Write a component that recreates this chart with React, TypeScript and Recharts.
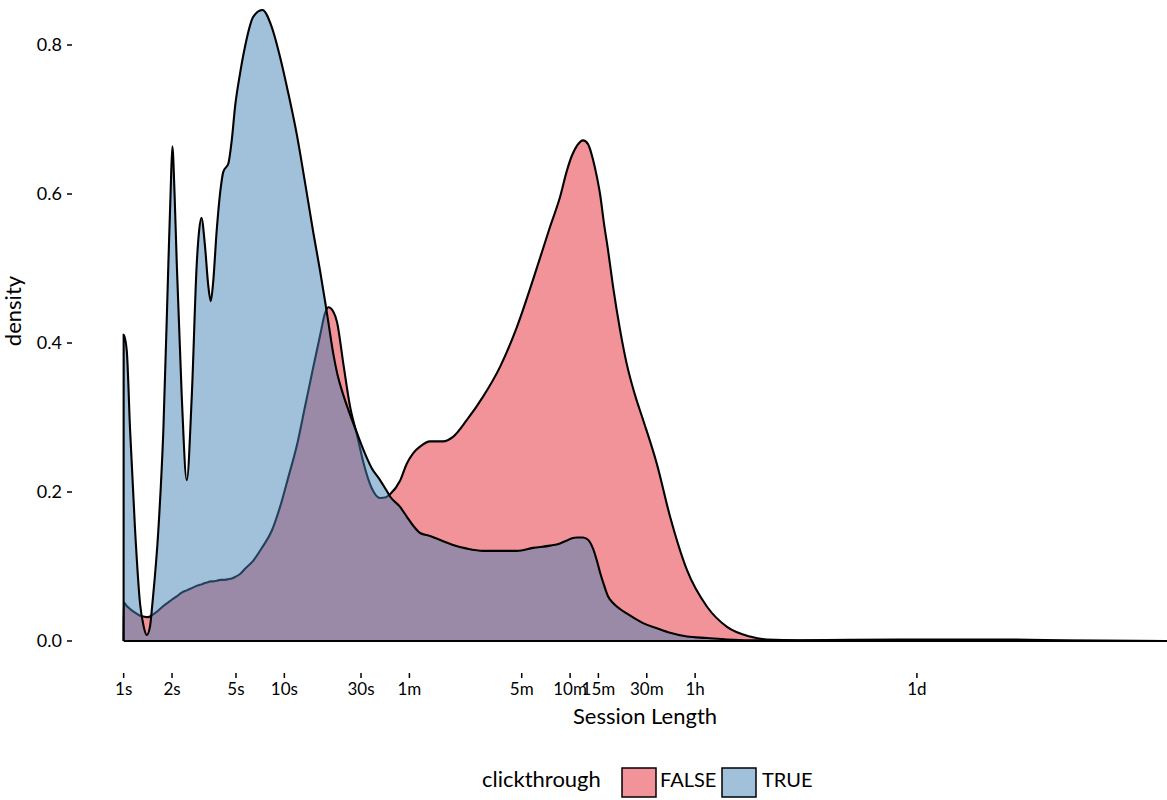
import React from 'react';
import { ComposedChart, Area, XAxis, YAxis, ReferenceLine } from 'recharts';

// Session length (seconds), with density of each group
const seconds = [
    0.999, 1, 1.045, 1.096, 1.177, 1.265, 1.33, 1.392, 1.46, 1.509,
    1.644, 1.766, 1.898, 1.958, 2.009, 2.074, 2.14, 2.299, 2.47, 2.653,
    2.851, 2.946, 3.045, 3.211, 3.351, 3.483, 3.6, 3.796, 4.021, 4.173,
    4.483, 4.706, 4.934, 5.302, 5.693, 6.413, 7.297, 8.35, 9.402, 10.59,
    11.95, 13.46, 15.15, 16.68, 17.92, 18.78, 20.18, 21.28, 23.29, 25.63,
    28.22, 31.01, 34.99, 39.4, 42.95, 45.48, 52.48, 57.77, 63.23, 69.9,
    80.66, 97.19, 112.1, 137.1, 172.4, 219.9, 280.6, 352.9, 450.2, 519.5,
    574.4, 617.1, 662.8, 722.3, 775.8, 833.7, 883, 921.7, 975.9, 1033,
    1110, 1227, 1351, 1522, 1707, 2085, 2513, 3205, 4270, 5685,
    7907, 10090, 16190, 67800, 284200, 894000, 3110000,
];

const densityFalse = [
    0, 0.052, 0.047, 0.043, 0.038, 0.034, 0.033, 0.032, 0.033, 0.035,
    0.041, 0.047, 0.052, 0.054, 0.056, 0.058, 0.06, 0.065, 0.068, 0.071,
    0.074, 0.075, 0.076, 0.078, 0.079, 0.08, 0.08, 0.081, 0.082, 0.082,
    0.083, 0.084, 0.086, 0.09, 0.097, 0.108, 0.126, 0.148, 0.18, 0.22,
    0.262, 0.315, 0.368, 0.41, 0.44, 0.448, 0.442, 0.428, 0.372, 0.315,
    0.278, 0.24, 0.205, 0.192, 0.193, 0.197, 0.215, 0.238, 0.252, 0.261,
    0.268, 0.268, 0.274, 0.297, 0.328, 0.368, 0.422, 0.485, 0.556, 0.596,
    0.632, 0.652, 0.665, 0.672, 0.667, 0.646, 0.622, 0.6, 0.56, 0.525,
    0.476, 0.418, 0.372, 0.33, 0.297, 0.237, 0.167, 0.095, 0.046, 0.019,
    0.006, 0.002, 0.001, 0.002, 0.002, 0.0005, 0,
];

const densityTrue = [
    0, 0.411, 0.39, 0.284, 0.15, 0.05, 0.02, 0.008, 0.02, 0.05,
    0.149, 0.283, 0.507, 0.6, 0.664, 0.6, 0.507, 0.328, 0.216, 0.328,
    0.507, 0.55, 0.568, 0.529, 0.48, 0.456, 0.48, 0.552, 0.609, 0.63,
    0.641, 0.672, 0.717, 0.762, 0.798, 0.838, 0.847, 0.824, 0.784, 0.735,
    0.68, 0.615, 0.548, 0.497, 0.456, 0.428, 0.385, 0.36, 0.33, 0.304,
    0.28, 0.257, 0.232, 0.216, 0.203, 0.194, 0.18, 0.167, 0.155, 0.145,
    0.141, 0.134, 0.129, 0.124, 0.121, 0.121, 0.121, 0.125, 0.128, 0.131,
    0.135, 0.138, 0.139, 0.139, 0.136, 0.124, 0.107, 0.092, 0.075, 0.06,
    0.051, 0.043, 0.037, 0.03, 0.024, 0.017, 0.011, 0.006, 0.004, 0.002,
    0.001, 0.001, 0.0005, 0.001, 0.001, 0.0003, 0,
];

const tickSeconds = [1, 2, 5, 10, 30, 60, 300, 600, 900, 1800, 3600, 86400];
const tickLabels = ['1s', '2s', '5s', '10s', '30s', '1m', '5m', '10m', '15m', '30m', '1h', '1d'];
const densityTicks = [0, 0.2, 0.4, 0.6, 0.8];
const groups = ['FALSE', 'TRUE'];

const data = seconds.map((s, i) => ({ s, f: densityFalse[i], t: densityTrue[i] }));

const FONT = 'Lato, "DejaVu Sans", sans-serif';
const PINK = '#E52733';
const BLUE = '#4381B5';

const App = () => {
    return (
        <div style={{ position: 'absolute', left: 0, top: 0, width: 1167, height: 800, fontFamily: FONT }}>
            <ComposedChart width={1167} height={800} data={data} margin={{ top: 0, right: 0, left: 0, bottom: 97 }}>
                <XAxis
                    dataKey="s"
                    type="number"
                    scale="log"
                    domain={[0.477, 3110000]}
                    allowDataOverflow
                    ticks={tickSeconds}
                    interval={0}
                    tickFormatter={(v: number) => tickLabels[tickSeconds.indexOf(v)]}
                    axisLine={false}
                    tickLine={{ stroke: '#000', strokeWidth: 1.5 }}
                    tickSize={5}
                    tickMargin={5}
                    height={30}
                    tick={{ fill: '#000', fontSize: 17, fontFamily: FONT }}
                />
                <YAxis
                    type="number"
                    domain={[-0.04295, 0.8604]}
                    allowDataOverflow
                    ticks={densityTicks}
                    interval={0}
                    tickFormatter={(v: number) => v.toFixed(1)}
                    axisLine={false}
                    tickLine={{ stroke: '#000', strokeWidth: 1.5 }}
                    tickSize={5}
                    tickMargin={5}
                    width={72}
                    tick={{ fill: '#000', fontSize: 18, fontFamily: FONT }}
                />
                <Area
                    type="monotone"
                    dataKey="f"
                    baseValue={0}
                    stroke="#000"
                    strokeWidth={2.1}
                    fill={PINK}
                    fillOpacity={0.5}
                    dot={false}
                    activeDot={false}
                    isAnimationActive={false}
                />
                <Area
                    type="monotone"
                    dataKey="t"
                    baseValue={0}
                    stroke="#000"
                    strokeWidth={2.1}
                    fill={BLUE}
                    fillOpacity={0.5}
                    dot={false}
                    activeDot={false}
                    isAnimationActive={false}
                />
                <ReferenceLine
                    segment={[{ x: seconds[1], y: 0 }, { x: seconds[seconds.length - 1], y: 0 }]}
                    stroke="#000"
                    strokeWidth={2.2}
                />
            </ComposedChart>

            {/* axis titles and legend */}
            <svg width={1167} height={800} style={{ position: 'absolute', left: 0, top: 0, pointerEvents: 'none' }}>
                <text x={645} y={724} textAnchor="middle" fontSize={22} fontFamily={FONT} fill="#000">
                    Session Length
                </text>
                <text x={21} y={311} transform="rotate(-90, 21, 311)" textAnchor="middle" fontSize={22} fontFamily={FONT} fill="#000">
                    density
                </text>
                <text x={482} y={787} fontSize={22} fontFamily={FONT} fill="#000">
                    clickthrough
                </text>
                <rect x={622} y={768} width={34} height={29} fill={PINK} fillOpacity={0.5} stroke="#000" strokeWidth={1.5} />
                <text x={660} y={787} fontSize={20} fontFamily={FONT} fill="#000">
                    {groups[0]}
                </text>
                <rect x={722} y={768} width={34} height={29} fill={BLUE} fillOpacity={0.5} stroke="#000" strokeWidth={1.5} />
                <text x={762} y={787} fontSize={20} fontFamily={FONT} fill="#000">
                    {groups[1]}
                </text>
            </svg>
        </div>
    );
};

export default App;
